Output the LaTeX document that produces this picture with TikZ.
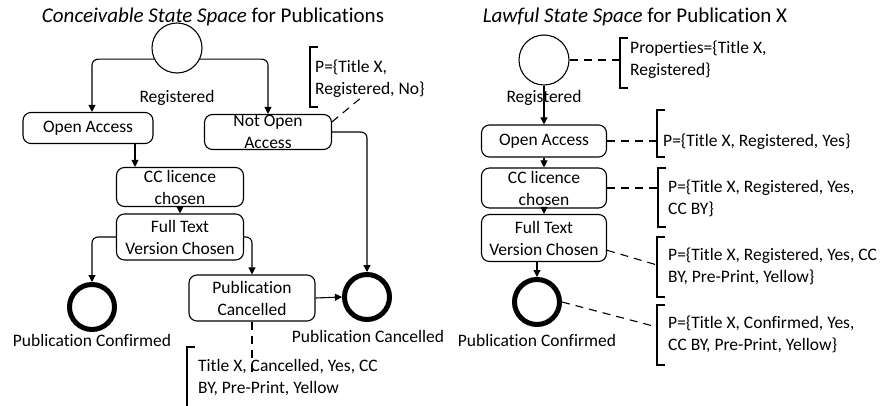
\documentclass[tikz,border=0pt]{standalone}
\usepackage{fontspec}
\setmainfont{Carlito}[Ligatures=NoCommon]
\usetikzlibrary{arrows.meta}
\begin{document}
\begin{tikzpicture}[x=1pt,y=-1pt,
  every node/.style={font=\fontsize{17.5}{22}\selectfont},
  heading/.style={font=\fontsize{21}{25}\selectfont},
  state/.style={draw, rounded corners=8pt, line width=1.1pt, align=center, inner sep=0pt},
  startst/.style={draw, circle, line width=1.1pt, minimum size=50pt, inner sep=0pt},
  endst/.style={draw, circle, line width=5pt, minimum size=45pt, inner sep=0pt},
  flow/.style={line width=1.1pt, -{Triangle[length=7pt,width=7pt]}},
  link/.style={line width=1.1pt, dash pattern=on 8pt off 6pt},
  brk/.style={line width=1.1pt},
  note/.style={align=left, inner sep=0pt, anchor=west}]
\useasboundingbox (0,0) rectangle (885,406);

% ---------- conceivable state space ----------
\node[heading] (ttlL) at (213,17) {\textit{Conceivable State Space} for Publications};
\node[startst] (s0) at (177,48) {};
\node (s0lab) at (177,98) {Registered};
\node[state, minimum width=130pt, minimum height=31pt] (oa) at (88,128) {Open Access};
\node[state, minimum width=127pt, minimum height=35pt] (noa) at (268,132) {};
\node[align=center, inner sep=0pt] (noatxt) at (268,132) {Not Open\\Access};
\node[state, minimum width=127pt, minimum height=39pt] (cc) at (180,187) {CC licence\\chosen};
\node[state, minimum width=127pt, minimum height=46pt] (ft) at (180,237) {Full Text\\Version Chosen};
\node[endst] (pconf) at (92,307) {};
\node (pconflab) at (92,340) {Publication Confirmed};
\node[state, minimum width=126pt, minimum height=46pt] (pcanc) at (252,298) {Publication\\Cancelled};
\node[endst] (pend) at (367,297) {};
\node (pendlab) at (368,336) {Publication Cancelled};

\coordinate (xoa) at (92,0);
\coordinate (xoc) at (135,0);
\draw[flow, rounded corners=6pt] (s0.206) -| (oa.north -| xoa);
\draw[flow, rounded corners=6pt] (s0.-26) -| (noa.north);
\draw[flow] (oa.south -| xoc) -- (cc.north -| xoc);
\draw[flow] (cc.south) -- (ft.north);
\draw[flow, rounded corners=6pt] (ft.west) -| (pconf.north);
\draw[flow, rounded corners=6pt] (ft.east) -| (pcanc.north);
\draw[flow, rounded corners=6pt] (noa.east) -| (pend.north);
\draw[flow] (pcanc.east) -- (pend.west);

% annotations
\node[note] (n1) at (315,79) {P=\{Title X,\\Registered, No\}};
\draw[brk] (318,47) -- (310,47) -- (310,107) -- (318,107);
\coordinate (n1tip) at (362,97);
\draw[link] (noa.9) -- (n1tip);

\node[note] (n2) at (198,378) {Title X, Cancelled, Yes, CC\\BY, Pre-Print, Yellow};
\draw[brk] (195,347) -- (187,347) -- (187,410);
\coordinate (n2tip) at (252,373);
\draw[link] (pcanc.south) -- (n2tip);

% ---------- lawful state space ----------
\node[heading] (ttlR) at (635,17) {\textit{Lawful State Space} for Publication X};
\node[startst] (r0) at (544,60) {};
\node (r0lab) at (544,98) {Registered};
\node[state, minimum width=125pt, minimum height=32pt] (roa) at (544,141) {Open Access};
\node[state, minimum width=125pt, minimum height=40pt] (rcc) at (544,188) {CC licence\\chosen};
\node[state, minimum width=125pt, minimum height=47pt] (rft) at (544,238) {Full Text\\Version Chosen};
\node[endst] (rconf) at (537,302) {};
\node (rconflab) at (537,340) {Publication Confirmed};

\draw[flow] (r0.south) -- (roa.north);
\draw[flow] (roa.south) -- (rcc.north);
\draw[flow] (rcc.south) -- (rft.north);
\draw[flow] (rft.south -| rconf) -- (rconf.north);

% annotations
\node[note] (q0) at (630,60) {Properties=\{Title X,\\Registered\}};
\draw[brk] (628,38) -- (620,38) -- (620,88) -- (628,88);
\coordinate (q0b) at (620,60);
\draw[link] (r0.east) -- (q0b);

\node[note] (q1) at (663,142) {P=\{Title X, Registered, Yes\}};
\draw[brk] (665,110) -- (657,110) -- (657,157) -- (665,157);
\coordinate (q1b) at (657,141);
\draw[link] (roa.east) -- (roa.east -| q1b);

\node[note] (q2) at (668,198.5) {P=\{Title X, Registered, Yes,\\CC BY\}};
\draw[brk] (666,168) -- (658,168) -- (658,227) -- (666,227);
\coordinate (q2b) at (658,198);
\draw[link] (rcc.east) -- (rcc.east -| q2b);

\node[note] (q3) at (668,266) {P=\{Title X, Registered, Yes, CC\\BY, Pre-Print, Yellow\}};
\draw[brk] (665,237) -- (657,237) -- (657,297) -- (665,297);
\coordinate (q3b) at (657,265);
\draw[link] (rft.-11) -- (q3b);

\node[note] (q4) at (668,334.5) {P=\{Title X, Confirmed, Yes,\\CC BY, Pre-Print, Yellow\}};
\draw[brk] (665,305) -- (657,305) -- (657,365) -- (665,365);
\coordinate (q4b) at (657,327);
\draw[link] (rconf.east) -- (q4b);
\end{tikzpicture}
\end{document}
